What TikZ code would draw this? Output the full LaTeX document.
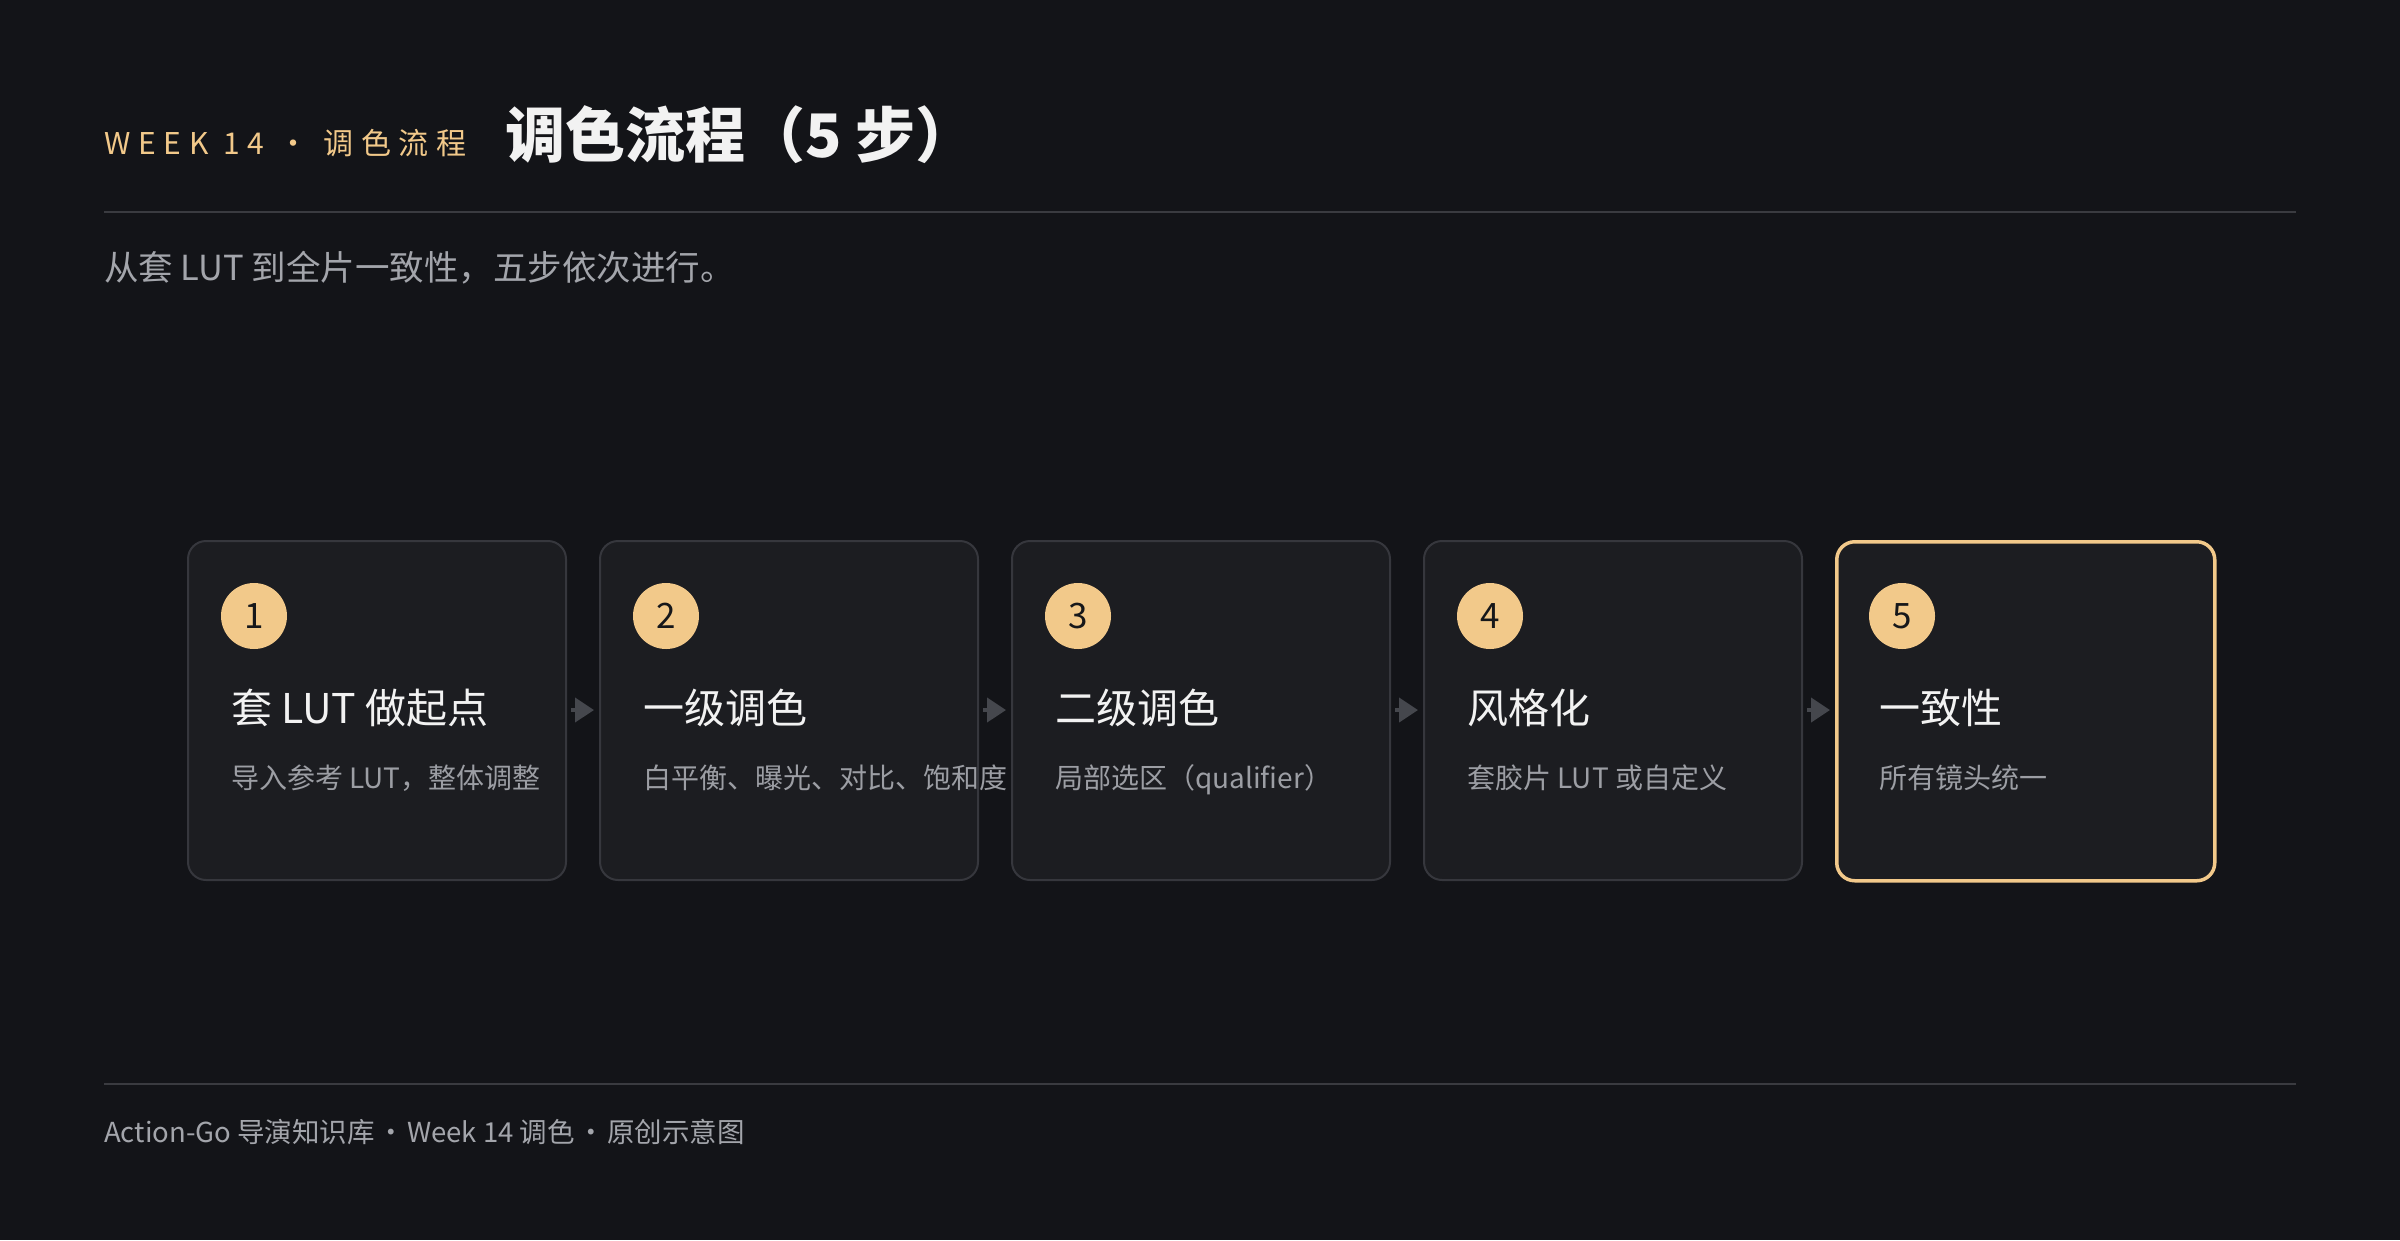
\documentclass[tikz,border=0pt]{standalone}
\usepackage{fontspec}
\setmainfont{Noto Sans CJK SC}
\newfontfamily\trackfont{Noto Sans CJK SC}[LetterSpace=26]
\usetikzlibrary{arrows.meta}
\definecolor{bgc}{HTML}{131418}
\definecolor{cardfill}{HTML}{1C1D21}
\definecolor{cardline}{HTML}{36373D}
\definecolor{accent}{HTML}{F2C98A}
\definecolor{titlec}{HTML}{F2F2F2}
\definecolor{subc}{HTML}{A3A5AB}
\definecolor{descc}{HTML}{9C9EA4}
\definecolor{rulec}{HTML}{3A3B40}
\definecolor{arrowc}{HTML}{45474D}
\definecolor{numc}{HTML}{16171A}
\newcommand{\fdot}{\makebox[20pt]{·}}
\begin{document}
\begin{tikzpicture}[x=1pt,y=-1pt,
  card/.style={draw=cardline, line width=2pt, fill=cardfill, rounded corners=18pt, minimum width=378pt, minimum height=339pt, anchor=north west, inner sep=0pt},
  lastcard/.style={card, draw=accent, line width=3.5pt},
  badge/.style={circle, fill=accent, minimum size=66pt, inner sep=0pt, text=numc, font=\fontsize{35}{35}\selectfont},
  steptitle/.style={anchor=base west, inner sep=0pt, text=titlec, font=\fontsize{41}{48}\selectfont},
  stepdesc/.style={anchor=base west, inner sep=0pt, text=descc, font=\fontsize{28}{34}\selectfont},
  flow/.style={draw=arrowc, line width=4pt, -{Triangle[length=19pt,width=24pt]}},
  rule/.style={draw=rulec, line width=2pt},
  plain/.style={anchor=base west, inner sep=0pt}]
\fill[bgc] (0,0) rectangle (2400,1240);
\useasboundingbox (0,0) rectangle (2400,1240);

% header
\node[plain, text=accent, font=\trackfont\fontsize{30}{36}\selectfont] (kicker) at (104,154) {WEEK 14 · 调色流程};
\node[plain, text=titlec, font=\bfseries\fontsize{60}{72}\selectfont] (title) at (505,157) {调色流程（5 步）};
\coordinate (r1a) at (104,212);
\coordinate (r1b) at (2296,212);
\draw[rule] (r1a) -- (r1b);
\node[plain, text=subc, font=\fontsize{34.5}{40}\selectfont] (sub) at (104,280) {从套 LUT 到全片一致性，五步依次进行。};

% cards
\node[card] (c1) at (187,540) {};
\node[card] (c2) at (599,540) {};
\node[card] (c3) at (1011,540) {};
\node[card] (c4) at (1423,540) {};
\node[lastcard] (c5) at (1835,540) {};

\node[badge] (n1) at (254,616) {1};
\node[badge] (n2) at (666,616) {2};
\node[badge] (n3) at (1078,616) {3};
\node[badge] (n4) at (1490,616) {4};
\node[badge] (n5) at (1902,616) {5};

\node[steptitle] (t1) at (231,723) {套 LUT 做起点};
\node[steptitle] (t2) at (643,723) {一级调色};
\node[steptitle] (t3) at (1055,723) {二级调色};
\node[steptitle] (t4) at (1467,723) {风格化};
\node[steptitle] (t5) at (1879,723) {一致性};

\node[stepdesc] (d1) at (231,788) {导入参考 LUT，整体调整};
\node[stepdesc] (d2) at (643,788) {白平衡、曝光、对比、饱和度};
\node[stepdesc] (d3) at (1055,788) {局部选区（qualifier）};
\node[stepdesc] (d4) at (1467,788) {套胶片 LUT 或自定义};
\node[stepdesc] (d5) at (1879,788) {所有镜头统一};

% connectors
\draw[flow] ([xshift=4pt]c1.east |- 0,710) -- ([xshift=-5pt]c2.west |- 0,710);
\draw[flow] ([xshift=4pt]c2.east |- 0,710) -- ([xshift=-5pt]c3.west |- 0,710);
\draw[flow] ([xshift=4pt]c3.east |- 0,710) -- ([xshift=-5pt]c4.west |- 0,710);
\draw[flow] ([xshift=4pt]c4.east |- 0,710) -- ([xshift=-5pt]c5.west |- 0,710);

% footer
\coordinate (r2a) at (104,1084);
\coordinate (r2b) at (2296,1084);
\draw[rule] (r2a) -- (r2b);
\node[plain, text=subc, font=\fontsize{27.5}{34}\selectfont] (foot) at (104,1142) {Action-Go 导演知识库 \fdot{} Week 14 调色 \fdot{} 原创示意图};
\end{tikzpicture}
\end{document}
